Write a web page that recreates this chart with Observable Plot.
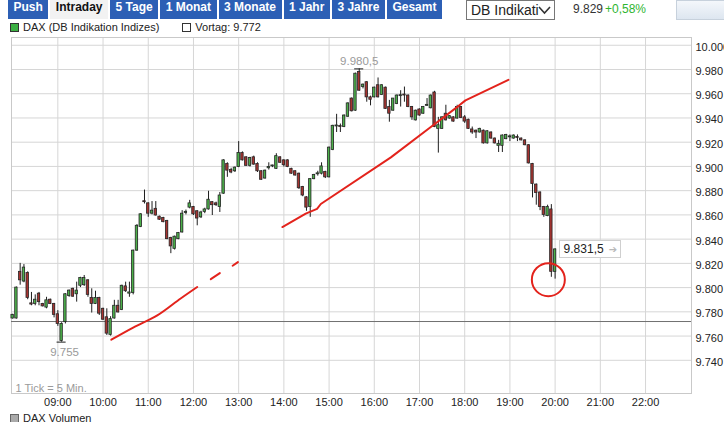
<!DOCTYPE html>
<html>
<head>
<meta charset="utf-8">
<script src="https://cdn.jsdelivr.net/npm/d3@7"></script>
<script src="https://cdn.jsdelivr.net/npm/@observablehq/plot@0.6"></script>
<style>
  body { margin: 0; background: #fff; }
  #wrap { position: relative; width: 724px; height: 422px; overflow: hidden; font-family: "Liberation Sans", Arial, sans-serif; color: #222; }
  #head { position: relative; height: 36px; }
  #tabs { position: absolute; left: 8px; top: 0; display: flex; gap: 2px; }
  .tab { height: 19px; line-height: 19px; padding: 0 5.5px; background: #2c5fb5; color: #fff; font: bold 12px "Liberation Sans", Arial, sans-serif; }
  .tab.active { background: #f2f2f2; color: #111; }
  #sel { position: absolute; left: 466px; top: 0; border: 1px solid #777; font: 14px "Liberation Sans", Arial, sans-serif; line-height: 18px; padding-left: 4px; box-sizing: border-box; width: 89px; height: 20px; }
  #sel svg { position: absolute; right: 3px; top: 4px; }
  #quote { position: absolute; left: 573px; top: 2px; font: 12px "Liberation Sans", Arial, sans-serif; color: #333; }
  #chg { position: absolute; left: 605px; top: 2px; font: 12px "Liberation Sans", Arial, sans-serif; color: #2fb52f; }
  #thumb { position: absolute; left: 676px; top: 0; width: 50px; height: 20px; background: linear-gradient(#f4f7fb, #dde6f0); border: 1px solid #c7d1dc; box-sizing: border-box; }
  #legend { position: absolute; left: 10px; top: 21px; font: 11px "Liberation Sans", Arial, sans-serif; color: #222; display: flex; align-items: center; }
  .sq { width: 7px; height: 7px; border: 1px solid #333; display: inline-block; margin-right: 4px; }
  #foot { position: absolute; left: 10px; top: 412px; font: 11px "Liberation Sans", Arial, sans-serif; color: #222; display: flex; align-items: center; }
  #chart { position: absolute; left: 0; top: 36px; width: 724px; height: 386px; }
  #lastbox { position: absolute; background: #fff; border: 1px solid #cfcfcf; font: 12px "Liberation Sans", Arial, sans-serif; color: #222; height: 16px; line-height: 16px; padding: 0 3px 0 4px; white-space: nowrap; }
  #lastbox .arr { color: #b8b8b8; font: 10px "DejaVu Sans", sans-serif; margin-left: 5px; }
</style>
</head>
<body>
<div id="wrap">
  <div id="head">
    <div id="tabs"></div>
    <div id="sel"></div>
    <div id="quote"></div>
    <div id="chg"></div>
    <div id="thumb"></div>
    <div id="legend"></div>
  </div>
  <div id="chart"></div>
  <div id="foot"></div>
</div>
<script>
// ---------- data ----------
const tabs = ["Push", "Intraday", "5 Tage", "1 Monat", "3 Monate", "1 Jahr", "3 Jahre", "Gesamt"];
const activeTab = "Intraday";
const exchangeLabel = "DB Indikati";
const lastQuote = "9.829";
const changeText = "+0,58%";
const seriesName = "DAX (DB Indikation Indizes)";
const prevCloseLabel = "Vortag: 9.772";
const prevClose = 9772;
const volumeLabel = "DAX Volumen";
const tickNote = "1 Tick = 5 Min.";
const firstCandle = "08:00";
const candleMinutes = 5;

const open = [9774.5,9774.5,9813,9805,9812,9787,9786.5,9795,9786.5,9783.5,9790,9786.5,9778,9756,9771.5,9793,9799,9794.5,9801.5,9802,
9806,9791.5,9786.5,9791.5,9782.5,9775.5,9761,9774.5,9785,9781.5,9801,9795,9795.5,9830.5,9850,9870.5,9869.5,9861,9865,9858.5,
9857.5,9855,9841,9832,9840,9845.5,9861.5,9866,9866.5,9863,9858,9862.5,9864.5,9870.5,9869.5,9866.5,9877.5,9902,9897,9896,
9899.5,9911,9907.5,9900.5,9907.5,9902,9896,9890,9898.5,9900,9898,9907.5,9905,9905,9898,9896,9894,9883,9874.5,9866.5,
9889.5,9893.5,9894,9895.5,9891,9913.5,9933,9932.5,9932.5,9941,9956,9946,9978,9965.5,9969.5,9957,9957,9967,9959,9965,
9949,9946,9951.5,9958,9958.5,9958.5,9949,9938,9947,9943.5,9950,9948,9961,9931,9931,9943.5,9939.5,9940.5,9939.5,9949,
9940.5,9938.5,9930.5,9929.5,9928,9929.5,9919,9928,9923,9917,9917,9922.5,9924,9923,9923.5,9923,9921.5,9917.5,9902,9885,
9878.5,9866.5,9859,9864.5,9813];
const high = [9778,9800.5,9820,9819,9813,9796,9794,9796,9787,9792,9790.5,9787,9781,9771,9795,9798,9799.5,9804.5,9808.5,9810,
9806.5,9799,9797,9792,9783,9782.5,9776,9789.5,9789.5,9802,9804.5,9804.5,9831,9852,9861,9880.5,9870,9871,9871,9859,
9858,9855.5,9841.5,9842.5,9845.5,9863.5,9864,9872,9867,9863.5,9863,9865.5,9879.5,9871,9870.5,9878.5,9905.5,9903,9898.5,9899.5,
9920.5,9912,9908,9907.5,9908.5,9903,9896.5,9897,9903,9901,9910.5,9908,9905.5,9905.5,9898.5,9896.5,9894.5,9883.5,9875,9890,
9893.5,9896,9903,9896,9916,9934,9943,9935,9942.5,9952.5,9956.5,9977,9980.5,9968,9970,9958,9965.5,9973,9967.5,9965.5,
9954.5,9956,9959,9962.5,9965.5,9959,9949.5,9946.5,9947.5,9949.5,9956,9959,9962,9940.5,9941,9950.5,9942,9941,9950.5,9949.5,
9942,9939,9932.5,9930,9931.5,9930,9929.5,9928.5,9923.5,9921.5,9926,9926.5,9926,9926,9926,9923.5,9922,9918,9902.5,9885.5,
9879,9867,9868,9868.5,9832];
const low = [9774,9774,9802,9804,9790,9785,9785,9785,9784,9782.5,9786,9775,9768,9755,9770,9792,9792,9788,9800,9801,
9792,9779,9786,9777,9773,9760.5,9760,9774,9779,9781,9796,9792,9794,9830,9849.5,9869,9858,9860,9859,9855.5,
9853.5,9839.5,9828,9831,9839.5,9845,9860,9865,9859.5,9851,9857,9861,9864,9859.5,9867,9862,9877,9891,9894,9895,
9899,9904.5,9900,9899.5,9901,9895,9888.5,9889.5,9897,9899,9897.5,9902.5,9899.5,9899,9893.5,9892,9881,9875,9863,9858,
9889,9892,9893,9890,9890.5,9913,9928,9928,9932,9940.5,9945,9945.5,9962,9964,9953,9950,9956.5,9956.5,9958.5,9947,
9936.5,9945.5,9951,9949,9953,9948.5,9938,9937.5,9941.5,9943,9949.5,9947.5,9932,9911,9930.5,9937.5,9939,9936.5,9939,9939.5,
9935.5,9930.5,9926.5,9923,9927.5,9918.5,9918.5,9922.5,9918.5,9911.5,9911.5,9922,9920.5,9922.5,9920.5,9921,9917,9902,9874,9868,
9863.5,9858,9858.5,9808.5,9807];
const close = [9777.5,9800,9806,9816.5,9791.5,9786,9790,9788,9784.5,9789.5,9786.5,9777.5,9770,9770,9794.5,9797.5,9792.5,9797.5,9808,9808,
9794,9786.5,9791.5,9778.5,9773.5,9762,9774,9785,9779.5,9801.5,9797,9796,9830.5,9851,9860.5,9870,9861,9863.5,9859.5,9856,
9854,9840,9834,9842,9845,9861,9862.5,9869.5,9860.5,9857,9862,9864.5,9872.5,9868,9868,9876,9905,9896.5,9895,9899,
9911,9905,9900.5,9907,9901.5,9896,9889,9896.5,9899.5,9900.5,9908.5,9903,9901,9899.5,9894,9892.5,9882,9876,9866,9889.5,
9893,9894,9900,9891,9915.5,9933.5,9933.5,9932,9942,9952,9945.5,9976.5,9962.5,9967.5,9957,9955,9965,9957,9967,9947.5,
9943.5,9956,9958.5,9958.5,9958,9949,9940.5,9946,9942,9949,9950.5,9958.5,9932.5,9934,9940.5,9938,9941.5,9937,9949,9940,
9937,9931,9928,9928,9931,9919,9929,9923,9919,9918.5,9925.5,9926,9924.5,9925.5,9923,9921.5,9917.5,9902.5,9885.5,9878,
9866.5,9860,9866.5,9813,9831.5];

const xTickLabels = ["09:00","10:00","11:00","12:00","13:00","14:00","15:00","16:00","17:00","18:00","19:00","20:00","21:00","22:00"];
const yTicks = [9740,9760,9780,9800,9820,9840,9860,9880,9900,9920,9940,9960,9980,10000];
const dayHigh = [{time: "15:40", value: 9980.5, label: "9.980,5"}];
const dayLow = [{time: "09:05", value: 9755, label: "9.755"}];
const lastPrice = {time: "20:00", value: 9831.5, label: "9.831,5", arrow: "\u2794"};
// hand-drawn red annotations
const trendLow1 = [["10:11",9757],["10:40",9767],["11:12",9777],["11:43",9791],["12:05",9800.5]];
const trendLow2 = [["12:23",9807],["12:35",9812]];
const trendLow3 = [["12:52",9818],["12:59",9821]];
const trendHigh = [["13:58",9850],["14:29",9861],["14:44",9865],["14:49",9869],["16:22",9907.5],["17:15",9932.5],["17:52",9950],["18:01",9954.5],["18:58",9971.5]];
const circleMark = [["19:51",9806.5]];

// ---------- helpers ----------
const toMin = s => { const [h, m] = s.split(":").map(Number); return (h - 8) * 60 + m; };
const t0 = toMin(firstCandle);
const candles = open.map((o, i) => ({t: t0 + i * candleMinutes, o, h: high[i], l: low[i], c: close[i]}));
const xTicks = xTickLabels.map(toMin);
const de = d3.formatLocale({decimal: ",", thousands: ".", grouping: [3], currency: ["", "€"]});
const fmtY = de.format(",.0f");
const pts = arr => arr.map(([s, v]) => ({t: toMin(s), v}));

// ---------- header ----------
const tabsEl = document.getElementById("tabs");
tabs.forEach(name => {
  const d = document.createElement("div");
  d.className = "tab" + (name === activeTab ? " active" : "");
  d.textContent = name;
  tabsEl.appendChild(d);
});
document.getElementById("sel").innerHTML = exchangeLabel +
  '<svg width="13" height="10" viewBox="0 0 13 10"><path d="M1 2 L6.5 8 L12 2" fill="none" stroke="#333" stroke-width="1.6"/></svg>';
document.getElementById("quote").textContent = lastQuote;
document.getElementById("chg").textContent = changeText;
document.getElementById("legend").innerHTML =
  '<span class="sq" style="background:#3cb043"></span><span>' + seriesName + '</span>' +
  '<span class="sq" style="background:#fff;margin-left:23px"></span><span>' + prevCloseLabel + '</span>';
document.getElementById("foot").innerHTML = '<span class="sq" style="background:#aaa;border-color:#666"></span><span>' + volumeLabel + '</span>';

// ---------- chart ----------
const red = "#e3231c";
const chart = Plot.plot({
  width: 724,
  height: 386,
  marginTop: 1,
  marginBottom: 29,
  marginLeft: 11,
  marginRight: 33,
  style: {fontFamily: "Liberation Sans, Arial, sans-serif", fontSize: "11px", color: "#222", background: "transparent", overflow: "visible"},
  x: {domain: [-1.5, 901], axis: null, label: null},
  y: {domain: [9712.6, 10006.4], axis: null, label: null},
  marks: [
    Plot.gridX(xTicks, {stroke: "#d6d6d6", strokeOpacity: 1}),
    Plot.gridY(yTicks, {stroke: "#d6d6d6", strokeOpacity: 1}),
    Plot.frame({stroke: "#c9c9c9"}),
    Plot.axisX(xTicks, {anchor: "bottom", label: null, tickSize: 0, tickPadding: 5, tickFormat: d => xTickLabels[xTicks.indexOf(d)], fill: "#222"}),
    Plot.axisY(yTicks, {anchor: "right", label: null, tickSize: 0, tickPadding: 4, tickFormat: fmtY, textAnchor: "start", dy: 2, fill: "#222"}),
    Plot.text([tickNote], {frameAnchor: "bottom-left", dx: 4, dy: -2, fill: "#9a9a9a", fontSize: 11}),
    Plot.ruleY([prevClose], {stroke: "#707070", strokeWidth: 1}),
    Plot.ruleX(candles, {x: "t", y1: "l", y2: "h", stroke: "#1e1e1e", strokeWidth: 1}),
    Plot.rect(candles, {
      x1: d => d.t - 1.6, x2: d => d.t + 1.6,
      y1: "o", y2: d => Math.abs(d.c - d.o) < 0.8 ? d.o + 0.8 : d.c,
      fill: d => d.c >= d.o ? "#4cb04a" : "#a63330",
      stroke: "#262626", strokeWidth: 0.8
    }),
    // day high / low markers
    Plot.ruleY(dayHigh.concat(dayLow), {y: "value", x1: d => toMin(d.time) - 6, x2: d => toMin(d.time) + 6, stroke: "#1e1e1e"}),
    Plot.text(dayHigh, {x: d => toMin(d.time), y: "value", text: "label", dy: -8, fill: "#9a9a9a", fontSize: 11.5}),
    Plot.text(dayLow, {x: d => toMin(d.time) + 4, y: "value", text: "label", dy: 10, fill: "#9a9a9a", fontSize: 11.5}),
    // red hand-drawn annotations
    Plot.line(pts(trendLow1), {x: "t", y: "v", stroke: red, strokeWidth: 2, curve: "catmull-rom"}),
    Plot.line(pts(trendLow2), {x: "t", y: "v", stroke: red, strokeWidth: 2}),
    Plot.line(pts(trendLow3), {x: "t", y: "v", stroke: red, strokeWidth: 2}),
    Plot.line(pts(trendHigh), {x: "t", y: "v", stroke: red, strokeWidth: 2}),
    Plot.dot(pts(circleMark), {x: "t", y: "v", r: 16.5, stroke: red, strokeWidth: 2, fill: "none"})
  ]
});
const chartEl = document.getElementById("chart");
chartEl.appendChild(chart);

// last price label box, anchored through the chart's own scales
(function () {
  const px = chart.scale("x").apply(toMin(lastPrice.time));
  const py = chart.scale("y").apply(lastPrice.value);
  const box = document.createElement("div");
  box.id = "lastbox";
  box.innerHTML = '<span>' + lastPrice.label + '</span><span class="arr">' + lastPrice.arrow + '</span>';
  box.style.left = (px + 4) + "px";
  box.style.top = (py - 9) + "px";
  chartEl.appendChild(box);
})();
</script>
</body>
</html>
